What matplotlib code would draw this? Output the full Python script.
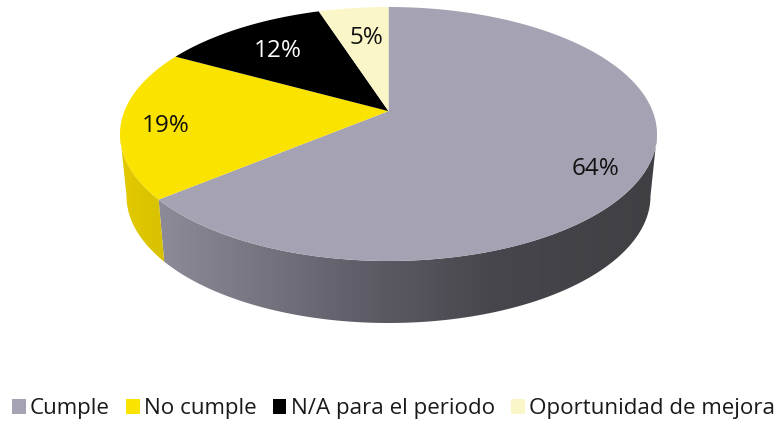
import numpy as np
import matplotlib
matplotlib.use('Agg')
import matplotlib.pyplot as plt
from matplotlib.patches import Patch, Polygon
from matplotlib.colors import LinearSegmentedColormap

labels = ['Cumple', 'No cumple', 'N/A para el periodo', 'Oportunidad de mejora']
values = [64, 19, 12, 5]
colors = ['#A5A3B3', '#FBE300', '#000000', '#FBF6C8']
pct_colors = ['#111111', '#111111', '#FFFFFF', '#111111']

# geometry of the tilted pie, in pixels
cx, cy_top, rx_top, ry = 388.5, 134, 268.5, 127
cy_bot, rx_bot = 196, 262
apex_shift = 0.18   # apex sits above the middle of the ellipse (perspective)

plt.rcParams['font.family'] = ['Open Sans', 'DejaVu Sans']

def rim(deg, cy, rx):
    # point on the rim for a true pie angle, pushed through the perspective map
    t = np.radians(deg)
    x, y = np.cos(t), np.sin(t)
    d = 1 + apex_shift * y
    yy = (y + apex_shift) / d
    xx = x * np.sqrt(1 - apex_shift**2) / d
    return cx + rx * xx, cy - ry * yy

def side_wall(a, b, cmap_name):
    # wall between pie angles a > b, gradient is left to right
    tt = np.linspace(a, b, 160)
    xt, yt = rim(tt, cy_top, rx_top)
    xb, yb = rim(tt, cy_bot, rx_bot)
    pts = np.column_stack([np.r_[xt, xb[::-1]], np.r_[yt, yb[::-1]]])
    poly = Polygon(pts, closed=True, fc='none', ec='none')
    ax.add_patch(poly)
    im = ax.imshow(np.linspace(0, 1, 256).reshape(1, -1), cmap=cmap_name, vmin=0, vmax=1,
                   extent=[100, 680, 421, 0], aspect='auto', zorder=1)
    im.set_clip_path(poly)

fig = plt.figure(figsize=(7.77, 4.21), dpi=100)
ax = fig.add_axes([0, 0, 1, 1])

# cumulative angles, clockwise from 12 o'clock
stops = 90 - np.cumsum([0] + values) * 3.6

# widest point of the ellipse, where the wall silhouette starts
edge = np.degrees(np.arcsin(apex_shift))

# 0 = x 100, 1 = x 680
grey_wall = LinearSegmentedColormap.from_list('grey_wall', [
    (0.0, '#92919D'), (0.11, '#8B8A96'), (0.45, '#5F5E68'), (0.68, '#47464C'), (1.0, '#3F3E43')])
yellow_wall = LinearSegmentedColormap.from_list('yellow_wall', [
    (0.0, '#E8CE00'), (0.1, '#D9C200'), (1.0, '#D9C200')])

# only the first two slices show their side, the rest face away
side_wall(-edge, stops[1], grey_wall)
side_wall(stops[1], -180 + edge, yellow_wall)

# top face
xa, ya = cx, cy_top - ry * apex_shift
for i in range(len(values)):
    tt = np.linspace(stops[i], stops[i + 1], 200)
    xs, ys = rim(tt, cy_top, rx_top)
    ax.fill(np.r_[xa, xs], np.r_[ya, ys], color=colors[i], lw=0, zorder=2)

# percent labels
pct_pos = [(596, 169), (166, 126), (278, 51), (366, 38)]
for v, p, c in zip(values, pct_pos, pct_colors):
    ax.text(p[0], p[1], '%d%%' % v, color=c, fontsize=17.5, ha='center', va='center', zorder=3)

ax.set_xlim(0, 777)
ax.set_ylim(421, 0)
ax.axis('off')

handles = [Patch(fc=c, ec='none') for c in colors]
ax.legend(handles, labels, ncol=4, loc='center', bbox_to_anchor=(0.5064, 0.029), frameon=False,
          fontsize=16.1, labelcolor='#1A1A1A', handlelength=0.62, handleheight=0.62,
          handletextpad=0.2, columnspacing=0.71, borderpad=0, borderaxespad=0)

fig.savefig('out.png', dpi=100)
